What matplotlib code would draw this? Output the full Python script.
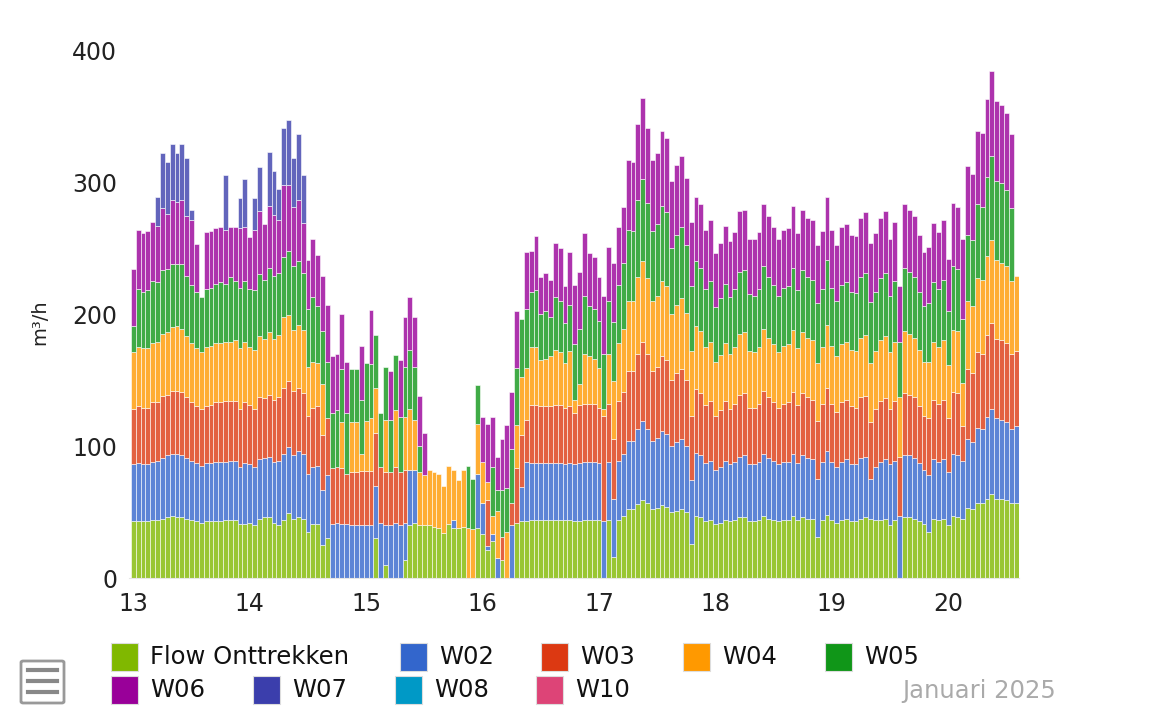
import numpy as np
import matplotlib.pyplot as plt
from matplotlib.patches import Rectangle, FancyBboxPatch
from matplotlib.lines import Line2D

# hourly values, 13 januari 00:00 .. 20 januari 14:00 (m3/h), one row per day
flow = [43, 43, 43, 43, 44, 44, 45, 46, 47, 46, 46, 45, 44, 43, 42, 43, 43, 43, 43, 44, 44, 44, 41, 41,
        42, 40, 45, 46, 46, 42, 40, 44, 49, 45, 46, 45, 35, 41, 41, 25, 30, 0, 0, 0, 0, 0, 0, 0,
        0, 0, 30, 0, 10, 0, 0, 0, 14, 40, 42, 40, 40, 40, 39, 38, 34, 41, 38, 38, 39, 0, 0, 38,
        33, 21, 28, 0, 14, 0, 0, 42, 43, 43, 44, 44, 44, 44, 44, 44, 44, 44, 44, 43, 43, 44, 44, 44,
        44, 0, 44, 16, 44, 47, 52, 52, 56, 59, 57, 52, 53, 55, 54, 50, 51, 52, 50, 26, 47, 46, 43, 44,
        41, 42, 44, 43, 44, 46, 46, 43, 43, 44, 47, 45, 44, 43, 44, 44, 47, 44, 46, 45, 45, 31, 44, 48,
        44, 42, 44, 45, 43, 43, 45, 46, 45, 44, 44, 45, 40, 44, 0, 46, 46, 45, 43, 41, 35, 45, 44, 45,
        40, 47, 46, 45, 53, 52, 57, 57, 60, 64, 60, 60, 59, 57, 57]
w02 = [43, 44, 43, 43, 44, 45, 46, 47, 47, 48, 47, 46, 45, 44, 43, 44, 44, 45, 45, 44, 45, 45, 43, 46,
       44, 44, 45, 45, 46, 46, 49, 50, 50, 48, 50, 49, 44, 43, 44, 42, 48, 41, 42, 41, 41, 40, 40, 40,
       40, 40, 40, 42, 30, 40, 42, 40, 28, 42, 40, 0, 0, 0, 0, 0, 0, 0, 6, 0, 0, 0, 0, 41,
       24, 3, 5, 15, 0, 0, 40, 0, 26, 45, 43, 43, 43, 43, 43, 43, 43, 42, 43, 43, 44, 44, 44, 44,
       43, 43, 44, 44, 45, 47, 52, 52, 57, 60, 56, 52, 53, 56, 55, 50, 52, 53, 50, 48, 48, 47, 44, 45,
       41, 42, 45, 43, 44, 46, 47, 43, 43, 44, 47, 46, 45, 43, 44, 44, 47, 43, 47, 46, 45, 44, 44, 48,
       44, 42, 44, 45, 43, 43, 46, 46, 30, 40, 44, 45, 46, 45, 47, 47, 47, 46, 44, 41, 43, 45, 44, 45,
       40, 47, 47, 44, 52, 51, 57, 56, 62, 64, 61, 60, 59, 56, 58]
w03 = [42, 43, 43, 43, 45, 44, 47, 46, 48, 48, 48, 46, 44, 43, 43, 43, 44, 45, 45, 46, 45, 45, 44, 46,
       45, 44, 47, 45, 47, 47, 48, 50, 50, 49, 48, 46, 44, 45, 45, 41, 43, 42, 42, 42, 38, 40, 40, 41,
       41, 41, 40, 42, 40, 40, 42, 40, 40, 0, 0, 0, 0, 0, 0, 0, 0, 0, 0, 0, 0, 0, 0, 0,
       0, 35, 0, 0, 17, 0, 17, 41, 39, 32, 44, 44, 43, 43, 43, 44, 44, 43, 43, 39, 44, 44, 44, 44,
       42, 80, 44, 45, 45, 47, 53, 53, 57, 60, 57, 53, 54, 57, 56, 50, 52, 53, 50, 49, 48, 47, 44, 45,
       41, 43, 45, 42, 44, 47, 47, 43, 43, 44, 48, 46, 44, 43, 44, 45, 47, 44, 47, 46, 45, 44, 44, 48,
       44, 42, 45, 45, 44, 43, 46, 46, 43, 44, 46, 46, 42, 45, 45, 47, 46, 46, 43, 41, 43, 45, 44, 45,
       41, 47, 47, 26, 53, 52, 57, 57, 62, 65, 60, 60, 60, 57, 57]
w04 = [43, 45, 45, 45, 45, 46, 47, 47, 48, 49, 48, 46, 45, 44, 43, 45, 45, 45, 45, 45, 45, 46, 46, 46,
       44, 45, 46, 45, 47, 46, 47, 54, 50, 46, 48, 48, 37, 35, 33, 39, 0, 0, 0, 35, 0, 38, 38, 13,
       38, 40, 34, 0, 40, 0, 43, 0, 40, 46, 38, 40, 38, 42, 41, 41, 36, 44, 38, 36, 43, 38, 37, 38,
       31, 14, 14, 36, 0, 35, 0, 33, 44, 39, 44, 44, 35, 36, 38, 42, 40, 34, 42, 10, 16, 38, 36, 34,
       30, 5, 38, 44, 44, 48, 53, 53, 58, 61, 57, 53, 54, 57, 56, 50, 52, 54, 51, 49, 48, 47, 44, 45,
       41, 42, 44, 42, 43, 46, 46, 43, 42, 43, 47, 45, 44, 42, 44, 44, 47, 43, 46, 45, 45, 44, 43, 48,
       44, 42, 44, 44, 43, 43, 45, 46, 45, 44, 46, 47, 43, 45, 45, 47, 46, 45, 43, 41, 43, 44, 43, 45,
       40, 47, 47, 33, 52, 51, 56, 56, 60, 63, 60, 59, 58, 55, 57]
w05 = [20, 44, 43, 44, 47, 45, 48, 48, 48, 47, 49, 46, 44, 43, 42, 44, 44, 45, 46, 44, 49, 45, 46, 46,
       44, 45, 47, 45, 49, 48, 47, 45, 49, 48, 48, 43, 44, 49, 43, 40, 43, 42, 43, 40, 46, 40, 40, 41,
       44, 41, 40, 41, 40, 40, 42, 42, 38, 45, 40, 20, 0, 0, 0, 0, 0, 0, 0, 0, 0, 47, 38, 29,
       0, 0, 37, 16, 36, 33, 41, 43, 44, 45, 42, 43, 35, 36, 30, 40, 39, 30, 35, 42, 42, 44, 38, 38,
       36, 42, 40, 45, 44, 50, 54, 53, 58, 62, 57, 53, 54, 57, 56, 50, 53, 54, 51, 49, 49, 48, 44, 46,
       41, 43, 45, 43, 44, 47, 47, 43, 43, 44, 47, 46, 45, 43, 44, 44, 47, 44, 47, 46, 46, 45, 44, 49,
       44, 42, 45, 45, 44, 44, 46, 47, 46, 45, 47, 48, 43, 46, 42, 48, 47, 46, 44, 42, 44, 45, 44, 46,
       41, 48, 47, 48, 50, 50, 56, 55, 60, 64, 60, 60, 58, 55, 0]
w06 = [43, 45, 44, 45, 45, 43, 47, 42, 48, 47, 48, 45, 49, 36, 0, 43, 43, 42, 42, 41, 38, 41, 45, 41,
       39, 46, 48, 42, 47, 46, 40, 55, 50, 45, 46, 38, 37, 44, 39, 42, 43, 43, 43, 42, 39, 0, 0, 41,
       0, 41, 0, 0, 0, 37, 0, 43, 38, 40, 38, 38, 32, 0, 0, 0, 0, 0, 0, 0, 0, 0, 0, 0,
       34, 44, 38, 25, 38, 48, 43, 43, 0, 43, 31, 41, 28, 29, 28, 41, 40, 28, 40, 45, 43, 47, 40, 39,
       33, 44, 41, 45, 44, 42, 53, 52, 58, 62, 57, 54, 54, 57, 56, 51, 53, 54, 51, 49, 49, 48, 45, 46,
       41, 42, 44, 42, 43, 46, 46, 42, 43, 43, 47, 46, 44, 43, 44, 44, 47, 43, 46, 45, 45, 44, 44, 48,
       44, 42, 44, 44, 43, 43, 45, 46, 45, 44, 46, 47, 43, 45, 42, 48, 47, 46, 43, 41, 43, 45, 43, 45,
       40, 48, 47, 61, 52, 50, 56, 56, 59, 64, 60, 59, 58, 56, 0]
# W07 only ran on 13 and 14 januari
w07 = [0, 0, 0, 0, 0, 22, 42, 39, 43, 37, 43, 44, 8, 0, 0, 0, 0, 0, 0, 41, 0, 0, 23, 36,
       0, 24, 33, 0, 41, 33, 24, 43, 49, 37, 50, 36, 0, 0, 0, 0, 0, 0, 0, 0, 0, 0, 0, 0]

day_labels = ['13', '14', '15', '16', '17', '18', '19', '20']

names = ['Flow Onttrekken', 'W02', 'W03', 'W04', 'W05', 'W06', 'W07', 'W08', 'W10']
colors = ['#80b800', '#3366cc', '#dc3912', '#ff9900', '#109618',
          '#990099', '#3b3eac', '#0099c6', '#dd4477']

W, H = 1152, 714
fig = plt.figure(figsize=(W / 100, H / 100), dpi=100)


def fx(px):
    return px / W


def fy(py):
    return 1 - py / H


ax = fig.add_axes([fx(129), fy(578), fx(890), (578 - 50) / H])

hours = np.arange(len(flow))
bottom = np.zeros(len(flow))
for vals, col in zip([flow, w02, w03, w04, w05, w06, w07], colors):
    v = np.zeros(len(flow))
    v[:len(vals)] = vals
    m = v > 0
    ax.bar(hours[m], v[m], bottom=bottom[m], width=1.0, color=col, alpha=0.8,
           edgecolor='white', linewidth=0.5)
    bottom += v

ax.set_xlim(-0.9, 182.6)
ax.set_ylim(0, 400)
ax.set_xticks(np.arange(0, 169, 24))
ax.set_xticklabels(day_labels)
ax.set_yticks([0, 100, 200, 300, 400])
ax.tick_params(axis='x', length=0, pad=10, labelsize=17, labelcolor='#222222')
ax.tick_params(axis='y', length=0, pad=8.5, labelsize=17, labelcolor='#222222')
for s in ['top', 'right', 'left']:
    ax.spines[s].set_visible(False)
ax.spines['bottom'].set_color('#e6e6e6')

fig.text(fx(40), fy(322), 'm³/h', rotation=90, fontsize=14, ha='center', va='center',
         color='#222222')

# legend, drawn by hand to keep the two-row layout
legend_pos = [(111, 657), (400, 657), (541, 657), (683, 657), (825, 657),
              (111, 690), (253, 690), (395, 690), (536, 690)]
for (x0, yc), name, col in zip(legend_pos, names, colors):
    fig.add_artist(Rectangle((fx(x0), fy(yc + 14)), fx(27), 28 / H, facecolor=col,
                             edgecolor='#dddddd', linewidth=0.8, transform=fig.transFigure))
    fig.text(fx(x0 + 39), fy(yc), name, fontsize=17.5, ha='left', va='center',
             color='#111111')

fig.text(fx(979), fy(691), 'Januari 2025', fontsize=17.5, ha='center', va='center',
         color='#aaaaaa')

# menu icon
fig.add_artist(FancyBboxPatch((fx(21), fy(703)), fx(43), 42 / H,
                              boxstyle='round,pad=0,rounding_size=0.002',
                              facecolor='white', edgecolor='#999999', linewidth=2,
                              transform=fig.transFigure))
for ly in [670, 681, 692]:
    fig.add_artist(Line2D([fx(28), fx(57)], [fy(ly), fy(ly)], color='#888888',
                          linewidth=3, transform=fig.transFigure))

fig.savefig('out.png', dpi=100)
